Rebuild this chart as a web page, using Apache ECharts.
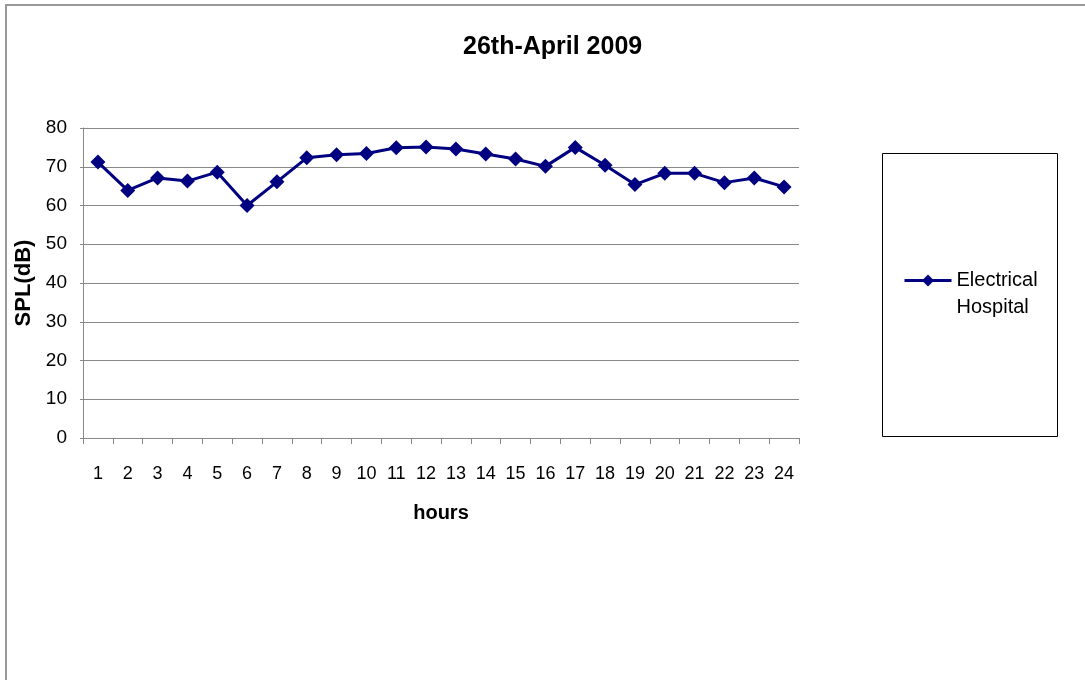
<!DOCTYPE html>
<html>
<head>
    <meta charset="utf-8">
    <title>26th-April 2009</title>
    <script src="https://cdn.jsdelivr.net/npm/echarts@6/dist/echarts.min.js"></script>
    <style>
        html, body { margin: 0; padding: 0; background: #fff; }
        #chart1 { width: 1085px; height: 680px; }
    </style>
</head>
<body>
<div id="chart1"></div>
<script>
    // 数据
    var hours = ['1', '2', '3', '4', '5', '6', '7', '8', '9', '10', '11', '12',
        '13', '14', '15', '16', '17', '18', '19', '20', '21', '22', '23', '24'];
    var splValues = [71.2, 63.9, 67.1, 66.3, 68.6, 60.0, 66.1, 72.3, 73.1, 73.4, 74.9, 75.1,
        74.6, 73.3, 72.0, 70.1, 75.0, 70.4, 65.4, 68.3, 68.3, 65.9, 67.1, 64.8];
    var seriesName = 'Electrical Hospital';
    var yTicks = [0, 80, 10]; // min, max, interval

    var font = 'Liberation Sans, Arial, sans-serif';
    var myChart = echarts.init(document.getElementById('chart1'));
    var option = {
        animation: false,
        backgroundColor: '#fff',
        title: {
            text: '26th-April 2009',
            left: 458,
            top: 30,
            textStyle: {fontFamily: font, fontSize: 25, fontWeight: 'bold', color: '#000'}
        },
        // 外框和图例框
        graphic: [
            {
                type: 'rect', silent: true,
                shape: {x: 6, y: 5, width: 1200, height: 800},
                style: {fill: 'none', stroke: '#999', lineWidth: 2}
            },
            {
                type: 'rect', silent: true,
                shape: {x: 882.5, y: 153.5, width: 175, height: 283},
                style: {fill: 'none', stroke: '#000', lineWidth: 1}
            }
        ],
        legend: {
            left: 898,
            top: 235,
            orient: 'vertical',
            itemWidth: 47,
            itemHeight: 15,
            lineStyle: {width: 3},
            formatter: function () {
                return ' \nElectrical\nHospital';//首行空白,让文字与图标对齐
            },
            textStyle: {
                fontFamily: font, fontSize: 20, color: '#000',
                lineHeight: 27
            },
            data: [seriesName]
        },
        grid: {
            left: 83,
            top: 128,
            width: 716,
            height: 310
        },
        xAxis: {
            type: 'category',
            data: hours,
            boundaryGap: true,
            name: 'hours',
            nameLocation: 'middle',
            nameGap: 65,
            nameTextStyle: {fontFamily: font, fontSize: 20, fontWeight: 'bold', color: '#000'},
            axisLine: {lineStyle: {color: '#888', width: 1}},
            axisTick: {show: true, length: 6, lineStyle: {color: '#888'}},
            axisLabel: {
                interval: 0,//全部显示
                margin: 27,
                fontFamily: font, fontSize: 18, color: '#000'
            }
        },
        yAxis: {
            type: 'value',
            min: yTicks[0],
            max: yTicks[1],
            interval: yTicks[2],
            name: 'SPL(dB)',
            nameLocation: 'middle',
            nameRotate: 90,
            nameGap: 43,
            nameTextStyle: {fontFamily: font, fontSize: 22, fontWeight: 'bold', color: '#000'},
            axisLine: {show: true, lineStyle: {color: '#888', width: 1}},
            axisTick: {show: true, length: 3, lineStyle: {color: '#888'}},
            axisLabel: {margin: 16, fontFamily: font, fontSize: 19, color: '#000'},
            splitLine: {show: true, lineStyle: {color: '#888', width: 1}}
        },
        series: [
            {
                name: seriesName,
                type: 'line',
                data: splValues,
                color: '#000080',
                symbol: 'diamond',//拐点样式
                symbolSize: 15,//拐点大小
                showAllSymbol: true,
                lineStyle: {width: 3, color: '#000080'},
                itemStyle: {color: '#000080'}
            }
        ]
    };
    myChart.setOption(option);
</script>
</body>
</html>
